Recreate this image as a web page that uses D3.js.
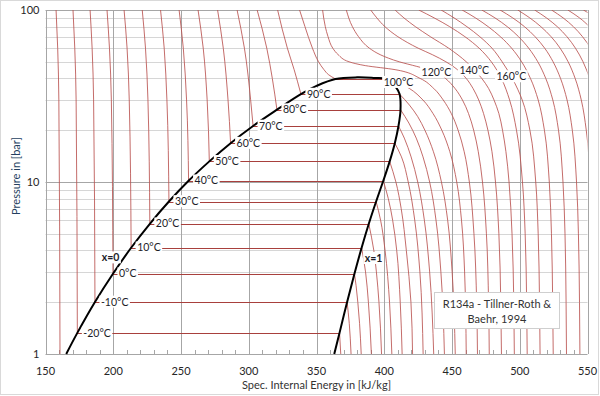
<!DOCTYPE html>
<html>
<head>
<meta charset="utf-8">
<script src="https://cdn.jsdelivr.net/npm/d3@7"></script>
<style>
  body { margin: 0px; padding: 0px; background: #fff; }
  svg text { font-family: Lato, "Open Sans", sans-serif; }
</style>
</head>
<body>
<div id="svg_cont"></div>
<script>

// ---- data: R134a, p in bar, u in kJ/kg ----

var xTicks = [150, 200, 250, 300, 350, 400, 450, 500, 550];
var yTicks = [1, 10, 100];
var yMinor = [2, 3, 4, 5, 6, 7, 8, 9, 20, 30, 40, 50, 60, 70, 80, 90];

// saturation, one entry per labelled isotherm
var satT   = [-20, -10, 0, 10, 20, 30, 40, 50, 60, 70, 80, 90, 100];
var satP   = [1.327, 2.006, 2.928, 4.146, 5.717, 7.702, 10.166, 13.18, 16.82, 21.17, 26.33, 32.44, 39.72];
var satUl  = [173.5, 186.5, 199.8, 213.2, 227.0, 241.1, 255.6, 270.9, 286.6, 303.2, 320.8, 338.5, 364.0];
var satUv  = [367.0, 372.6, 378.0, 383.3, 388.6, 394.0, 399.3, 404.0, 407.8, 410.5, 412.0, 411.3, 402.0];

// saturation curves x=0 and x=1 (u, p)
var domeLiq = [[165.3, 1.0], [173.5, 1.327], [186.5, 2.006], [199.8, 2.928], [213.2, 4.146],
               [227.0, 5.717], [241.1, 7.702], [255.6, 10.166], [270.9, 13.18], [286.6, 16.82],
               [303.2, 21.17], [320.8, 26.33], [338.5, 32.44], [350.0, 36.2], [364.0, 39.72],
               [380.0, 40.59]];
var domeVap = [[380.0, 40.59], [392.0, 40.3], [402.0, 39.72], [408.3, 35.9], [411.3, 32.44],
               [412.0, 26.33], [410.5, 21.17], [407.8, 16.82], [404.0, 13.18], [399.3, 10.166],
               [394.0, 7.702], [388.6, 5.717], [383.3, 4.146], [378.0, 2.928], [372.6, 2.006],
               [367.0, 1.327], [363.1, 1.0]];

// compressed liquid part of the isotherms -30 ... 100 C
var liquidLines = [
  [[157.8, 100], [159.0, 60], [159.85, 30], [160.7, 1]],
  [[170.3, 100], [171.6, 60], [172.6, 30], [173.5, 1.327]],
  [[182.9, 100], [184.4, 60], [185.5, 30], [186.5, 2.006]],
  [[195.4, 100], [197.2, 60], [198.6, 30], [199.8, 2.928]],
  [[208.0, 100], [210.2, 60], [211.8, 30], [213.2, 4.146]],
  [[221.4, 100], [223.8, 60], [225.6, 30], [227.0, 5.717]],
  [[234.9, 100], [237.6, 60], [239.6, 30], [241.1, 7.702]],
  [[248.6, 100], [251.7, 60], [254.1, 30], [255.6, 10.166]],
  [[262.6, 100], [266.4, 60], [269.3, 30], [270.9, 13.18]],
  [[277.0, 100], [281.2, 60], [284.7, 30], [286.6, 16.82]],
  [[291.4, 100], [296.8, 60], [301.4, 30], [303.2, 21.17]],
  [[306.2, 100], [313.3, 60], [317.4, 40], [320.8, 26.33]],
  [[321.3, 100], [328.5, 60], [333.5, 45], [338.5, 32.44]],
  [[337.5, 100], [341.5, 80], [347.0, 60], [351.5, 50], [355.5, 45], [359.0, 42], [364.0, 39.72]]
];

// superheated vapour part of the isotherms -20 ... 100 C
var vaporLines = [
  [[367.0, 1.327], [367.9, 1]],
  [[372.6, 2.006], [374.2, 1.5], [375.5, 1]],
  [[378.0, 2.928], [379.2, 2.5], [380.5, 2], [381.8, 1.5], [383.0, 1]],
  [[383.3, 4.146], [386.2, 3], [388.3, 2], [390.5, 1]],
  [[388.6, 5.717], [392.3, 4], [394.2, 3], [396.1, 2], [398.0, 1]],
  [[394.0, 7.702], [397.3, 6], [400.6, 4], [403.9, 2], [405.6, 1]],
  [[399.3, 10.166], [403.0, 8], [406.2, 6], [409.2, 4], [411.8, 2], [413.2, 1]],
  [[404.0, 13.18], [408.6, 10], [412.5, 7], [416.3, 4], [419.7, 2], [420.9, 1]],
  [[407.8, 16.82], [412.7, 14], [417.7, 10], [422.5, 6], [426.3, 3], [428.7, 1]],
  [[410.5, 21.17], [414.8, 18], [419.8, 14], [424.7, 10], [429.6, 6], [433.5, 3], [436.5, 1]],
  [[412.0, 26.33], [418.2, 22], [423.6, 18], [428.6, 14], [433.5, 10], [438.2, 6], [441.8, 3], [444.4, 1]],
  [[411.3, 32.44], [418.6, 28], [424.7, 24], [430.0, 20], [436.3, 15], [442.2, 10], [446.8, 6], [450.1, 3], [452.4, 1]],
  [[402.0, 39.72], [410.0, 38], [418.5, 35], [428.5, 30], [436.0, 25], [442.5, 20], [448.4, 15], [453.5, 10], [457.0, 6], [459.3, 3], [460.5, 1]]
];

// supercritical isotherms 110 ... 240 C
var superLines = [
  [[354.5, 100], [356.5, 80], [358.5, 70], [362, 60], [366, 55], [374, 50], [386, 47.5], [408, 45], [426.5, 40], [436.5, 35], [443.5, 30], [449.5, 25], [454.5, 20], [459, 15], [462.8, 10], [466.2, 5], [468.2, 2], [468.8, 1]],
  [[372, 100], [376.5, 80], [381, 70], [389, 60], [397, 55], [411, 50], [424, 47], [438.5, 43.6], [445.2, 40], [452.2, 35], [457.7, 30], [462.2, 25], [466, 20], [469.4, 15], [472.5, 10], [475.4, 5], [477, 2], [477.5, 1]],
  [[390, 100], [394.5, 90], [400.5, 80], [410, 70], [425, 60], [435.5, 55], [445.5, 50], [454, 45], [460.5, 40], [465.5, 35], [469.7, 30], [473.3, 25], [476.5, 20], [479.5, 15], [482.1, 10], [484.6, 5], [486, 2], [486.5, 1]],
  [[408, 100], [414.5, 90], [423, 80], [434, 70], [447.5, 60], [460.5, 50], [466.3, 45], [472, 40], [477, 35], [481, 30], [484.6, 25], [487.3, 20], [489.8, 15], [492.1, 10], [494.3, 5], [495.6, 2], [496, 1]],
  [[425.5, 100], [436.8, 90], [448.3, 80], [459.5, 70], [470, 60], [479, 50], [486.4, 40], [492.5, 30], [497.6, 20], [502, 10], [504, 5], [505.1, 2], [505.5, 1]],
  [[442, 100], [451.5, 90], [461, 80], [470.5, 70], [479.5, 60], [487, 50], [494.5, 40], [501.8, 30], [507.5, 20], [511.8, 10], [513.6, 5], [514.6, 2], [515, 1]],
  [[457.5, 100], [467.3, 90], [476.7, 80], [485.7, 70], [494, 60], [501.4, 50], [507.9, 40], [513.6, 30], [518.2, 20], [521.8, 10], [523.4, 5], [524.3, 2], [524.7, 1]],
  [[472, 100], [481.7, 90], [490.8, 80], [499.1, 70], [506.6, 60], [513.3, 50], [519.2, 40], [524.4, 30], [528.6, 20], [531.9, 10], [533.4, 5], [534.2, 2], [534.5, 1]],
  [[485.5, 100], [494.8, 90], [503.5, 80], [511.3, 70], [518.4, 60], [524.6, 50], [530.1, 40], [534.9, 30], [538.8, 20], [541.9, 10], [543.3, 5], [544.1, 2], [544.4, 1]],
  [[498.5, 100], [507.4, 90], [515.6, 80], [523.1, 70], [529.8, 60], [535.7, 50], [540.9, 40], [545.4, 30], [549.1, 20], [552.1, 10], [553.4, 5], [554.4, 1]],
  [[511, 100], [519.7, 90], [527.7, 80], [534.8, 70], [541.1, 60], [546.7, 50], [551.6, 40], [555.9, 30], [559.4, 20], [562.2, 10], [564.5, 1]],
  [[523.5, 100], [532, 90], [539.6, 80], [546.3, 70], [552.3, 60], [557.6, 50], [562.3, 40], [566.4, 30], [569.8, 20], [572.5, 10], [574.7, 1]],
  [[535.5, 100], [544.1, 90], [551.4, 80], [557.8, 70], [563.5, 60], [568.6, 50], [573.1, 40], [577, 30], [580.3, 20]],
  [[547, 100], [556.1, 90], [563.1, 80], [569.3, 70], [574.8, 60], [579.7, 50]]
];

// labels placed on the supercritical side
var hotLabelT = [100, 120, 140, 160];
var hotLabelU = [410.5, 438.5, 466.4, 493.8];
var hotLabelP = [38.0, 43.6, 44.8, 41.0];

var qualityText = ['x=0', 'x=1'];
var qualityU = [198.0, 392.1];
var qualityP = [3.63, 3.6];

var noteLines = ['R134a - Tillner-Roth  &', 'Baehr, 1994'];

// ---- drawing ----

var w = 600, h = 396;
var pl = 45.5, pr = 587.5, pt = 10, pb = 354;

var x = d3.scaleLinear().domain([150, 550]).range([pl, pr]);
var y = d3.scaleLog().domain([1, 100]).range([pb, pt]);

var iso_col = '#b9524f';
var flat_col = '#a8403d';
var grid_col = '#a6a6a6';
var minor_col = '#d6d6d6';

var svg = d3.select('div#svg_cont').append('svg')
  .attr('width', w)
  .attr('height', h);

svg.append('rect')
  .attr('x', 0.5).attr('y', 0.5)
  .attr('width', w - 2).attr('height', h - 2)
  .attr('fill', '#fff')
  .attr('stroke', '#d9d9d9');

svg.append('defs').append('clipPath').attr('id', 'plot_clip')
  .append('rect')
  .attr('x', pl).attr('y', pt)
  .attr('width', pr - pl).attr('height', pb - pt);

// grid
svg.selectAll('.ygrid_minor').data(yMinor).enter().append('line')
  .attr('x1', pl).attr('x2', pr)
  .attr('y1', d => Math.round(y(d)) + 0.5).attr('y2', d => Math.round(y(d)) + 0.5)
  .attr('stroke', minor_col).attr('stroke-width', 1.2);

svg.selectAll('.ygrid').data(yTicks).enter().append('line')
  .attr('x1', pl).attr('x2', pr)
  .attr('y1', d => Math.round(y(d)) + 0.5).attr('y2', d => Math.round(y(d)) + 0.5)
  .attr('stroke', grid_col).attr('stroke-width', 1);

svg.selectAll('.xgrid').data(xTicks).enter().append('line')
  .attr('x1', d => Math.round(x(d)) + 0.5).attr('x2', d => Math.round(x(d)) + 0.5)
  .attr('y1', pt).attr('y2', pb)
  .attr('stroke', grid_col).attr('stroke-width', 1);

// minor ticks on x axis, every 10 kJ/kg
svg.selectAll('.xtick').data(d3.range(150, 551, 10)).enter().append('line')
  .attr('x1', d => Math.round(x(d)) + 0.5).attr('x2', d => Math.round(x(d)) + 0.5)
  .attr('y1', pb).attr('y2', pb - 4)
  .attr('stroke', grid_col).attr('stroke-width', 1);

// isotherms
var lineGen = d3.line()
  .x(d => x(d[0]))
  .y(d => y(d[1]))
  .curve(d3.curveMonotoneY);

var iso = svg.append('g')
  .attr('clip-path', 'url(#plot_clip)')
  .attr('fill', 'none')
  .attr('stroke', iso_col)
  .attr('stroke-width', 0.85);

iso.selectAll('.liq').data(liquidLines).enter().append('path')
  .attr('d', lineGen);

iso.selectAll('.vap').data(vaporLines).enter().append('path')
  .attr('d', lineGen);

iso.selectAll('.sup').data(superLines).enter().append('path')
  .attr('d', lineGen);

iso.selectAll('.flat').data(satT).enter().append('line')
  .attr('x1', (d, i) => x(satUl[i]))
  .attr('x2', (d, i) => x(satUv[i]))
  .attr('y1', (d, i) => Math.round(y(satP[i])) + 0.5)
  .attr('y2', (d, i) => Math.round(y(satP[i])) + 0.5)
  .attr('stroke', flat_col)
  .attr('stroke-width', 1);

// saturation dome
var domeGen = d3.line()
  .x(d => x(d[0]))
  .y(d => y(d[1]))
  .curve(d3.curveCatmullRom.alpha(0.5));

svg.append('path')
  .attr('d', domeGen(domeLiq.concat(domeVap.slice(1))))
  .attr('fill', 'none')
  .attr('stroke', '#000')
  .attr('stroke-width', 2)
  .attr('stroke-linejoin', 'round');

// labels with white background
function add_label(tx, ty, txt, anchor, weight) {
  var g = svg.append('g');
  var t = g.append('text')
    .attr('x', tx).attr('y', ty)
    .attr('dy', '0.35em')
    .attr('text-anchor', anchor)
    .attr('font-size', '10.5px')
    .attr('font-weight', weight || 'normal')
    .attr('fill', '#1c1c28')
    .text(txt);
  var bb = t.node().getBBox();
  g.insert('rect', 'text')
    .attr('x', bb.x - 1.5).attr('y', bb.y)
    .attr('width', bb.width + 3).attr('height', bb.height)
    .attr('fill', '#fff');
}

satT.forEach(function(t, i) {
  if (t >= 100) return;
  add_label(x(satUl[i]) + 6, y(satP[i]), t + '°C', 'start');
});

hotLabelT.forEach(function(t, i) {
  add_label(x(hotLabelU[i]), y(hotLabelP[i]), t + '°C', 'middle');
});

qualityText.forEach(function(t, i) {
  add_label(x(qualityU[i]), y(qualityP[i]), t, 'middle', 'bold');
});

// axes labels
svg.selectAll('.xlab').data(xTicks).enter().append('text')
  .attr('x', d => x(d)).attr('y', pb + 21)
  .attr('text-anchor', 'middle')
  .attr('font-size', '11px')
  .attr('fill', '#262626')
  .text(d => d);

svg.selectAll('.ylab').data(yTicks).enter().append('text')
  .attr('x', pl - 6).attr('y', d => y(d))
  .attr('dy', '0.35em')
  .attr('text-anchor', 'end')
  .attr('font-size', '11px')
  .attr('fill', '#262626')
  .text(d => d);

svg.append('text')
  .attr('x', (pl + pr) / 2).attr('y', 389)
  .attr('text-anchor', 'middle')
  .attr('font-size', '11px')
  .attr('fill', '#333')
  .text('Spec. Internal Energy in [kJ/kg]');

svg.append('text')
  .attr('transform', 'translate(20,176) rotate(-90)')
  .attr('text-anchor', 'middle')
  .attr('font-size', '11px')
  .attr('fill', '#243f60')
  .text('Pressure in [bar]');

// note box
svg.append('rect')
  .attr('x', 434.5).attr('y', 292.5)
  .attr('width', 125).attr('height', 36)
  .attr('fill', '#fff')
  .attr('stroke', '#cfcfcf');

svg.selectAll('.note').data(noteLines).enter().append('text')
  .attr('x', 497).attr('y', (d, i) => 304 + i * 15)
  .attr('dy', '0.35em')
  .attr('text-anchor', 'middle')
  .attr('font-size', '11px')
  .attr('fill', '#333')
  .text(d => d);

</script>
</body>
</html>
